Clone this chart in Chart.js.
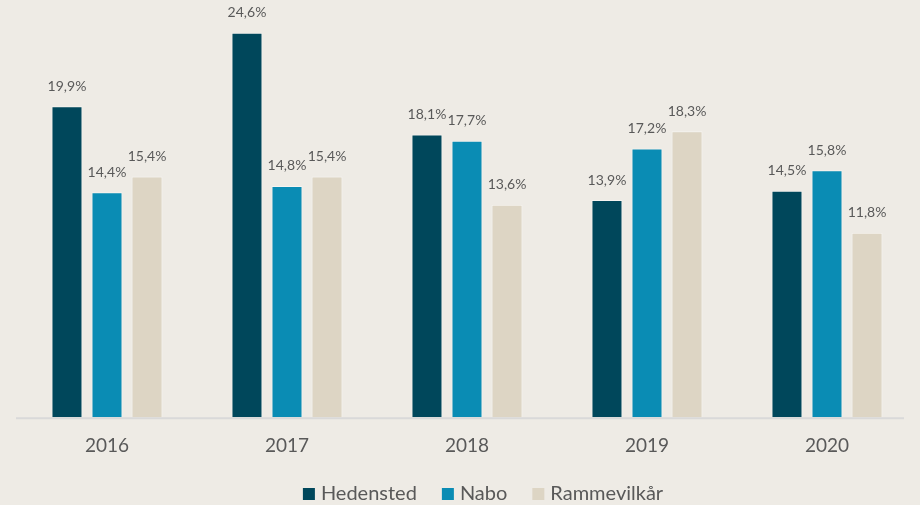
<!DOCTYPE html>
<html>
<head>
<meta charset="utf-8">
<script src="https://cdn.jsdelivr.net/npm/chart.js@4"></script>
<style>
  html, body { margin: 0; padding: 0; background: #EEEBE5; }
  #wrap { width: 920px; height: 505px; }
</style>
</head>
<body>
<div id="wrap"><canvas id="myChart"></canvas></div>
<script>
const years = ['2016', '2017', '2018', '2019', '2020'];
const hedensted = [19.9, 24.6, 18.1, 13.9, 14.5];
const nabo = [14.4, 14.8, 17.7, 17.2, 15.8];
const rammevilkar = [15.4, 15.4, 13.6, 18.3, 11.8];

const txtColor = '#595959';
const fontFam = 'Lato, "Open Sans", sans-serif';

// draws the value above each bar (like Excel data labels)
const valueLabels = {
  id: 'valueLabels',
  afterDatasetsDraw(chart) {
    const ctx = chart.ctx;
    ctx.save();
    ctx.font = '14px ' + fontFam;
    ctx.fillStyle = txtColor;
    ctx.textAlign = 'center';
    ctx.textBaseline = 'middle';
    chart.data.datasets.forEach((ds, i) => {
      chart.getDatasetMeta(i).data.forEach((bar, j) => {
        const txt = ds.data[j].toFixed(1).replace('.', ',') + '%';
        ctx.fillText(txt, bar.x, bar.y - 20);
      });
    });
    ctx.restore();
  }
};

// axis line under the bars
const baseLine = {
  id: 'baseLine',
  beforeDatasetsDraw(chart) {
    const a = chart.chartArea;
    const ctx = chart.ctx;
    ctx.save();
    ctx.strokeStyle = '#D9D9D9';
    ctx.lineWidth = 2;
    ctx.beginPath();
    ctx.moveTo(a.left - 1, a.bottom + 1);
    ctx.lineTo(a.right - 13, a.bottom + 1);
    ctx.stroke();
    ctx.restore();
  }
};

// legend at the bottom, drawn by hand so item gaps and height can be set separately
const bottomLegend = {
  id: 'bottomLegend',
  afterDraw(chart) {
    const ctx = chart.ctx;
    const box = 12, gapText = 6, gapItem = 25;
    const y = chart.height - 11;
    ctx.save();
    ctx.font = '20px ' + fontFam;
    ctx.textBaseline = 'middle';
    const items = chart.data.datasets.map(ds => ({
      label: ds.label, color: ds.backgroundColor, w: ctx.measureText(ds.label).width
    }));
    const total = items.reduce((s, it) => s + box + gapText + it.w, 0) + gapItem * (items.length - 1);
    let x = chart.width / 2 + 23 - total / 2;
    items.forEach(it => {
      ctx.fillStyle = it.color;
      ctx.fillRect(x, y - box / 2, box, box);
      x += box + gapText;
      ctx.fillStyle = txtColor;
      ctx.fillText(it.label, x, y);
      x += it.w + gapItem;
    });
    ctx.restore();
  }
};

const barStyle = {
  borderWidth: 1,
  borderColor: 'rgba(255,255,255,0.45)',
  categoryPercentage: 0.667,
  barPercentage: 0.775
};

new Chart(document.getElementById('myChart'), {
  type: 'bar',
  data: {
    labels: years,
    datasets: [
      Object.assign({ label: 'Hedensted', data: hedensted, backgroundColor: '#00475B' }, barStyle),
      Object.assign({ label: 'Nabo', data: nabo, backgroundColor: '#0A8CB4' }, barStyle),
      Object.assign({ label: 'Rammevilkår', data: rammevilkar, backgroundColor: '#DDD5C4' }, barStyle)
    ]
  },
  options: {
    responsive: true,
    maintainAspectRatio: false,
    animation: false,
    layout: { padding: { left: 17, right: 3, top: 0, bottom: 31 } },
    scales: {
      x: {
        grid: { display: false, drawTicks: false },
        border: { display: false },
        ticks: { color: txtColor, font: { family: fontFam, size: 19 }, padding: 17 }
      },
      y: {
        display: false,
        min: 0,
        max: 26.7
      }
    },
    plugins: {
      tooltip: { enabled: false },
      legend: { display: false }
    }
  },
  plugins: [valueLabels, baseLine, bottomLegend]
});
</script>
</body>
</html>
